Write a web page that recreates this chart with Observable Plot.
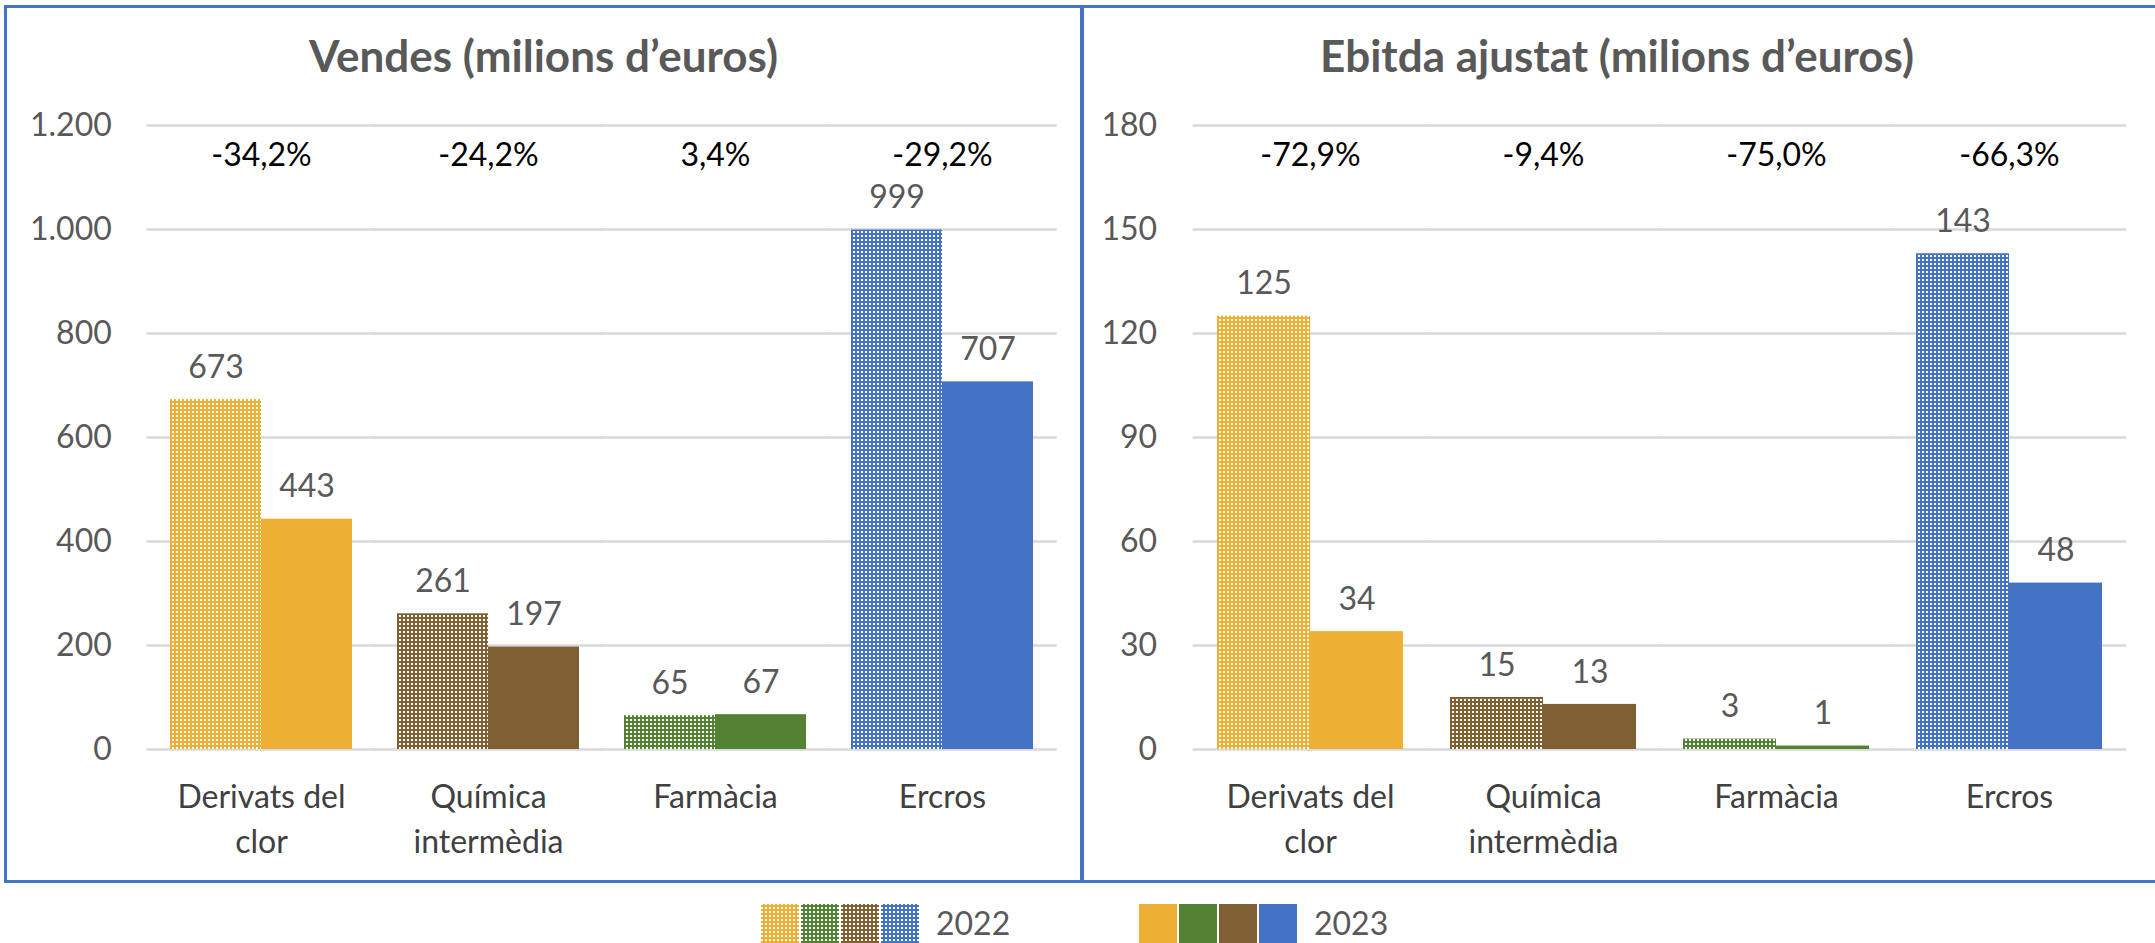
<!DOCTYPE html>
<html>
<head>
<meta charset="utf-8">
<script src="https://cdn.jsdelivr.net/npm/d3@7"></script>
<script src="https://cdn.jsdelivr.net/npm/@observablehq/plot@0.6"></script>
<style>
  html, body { margin: 0; padding: 0; background: #fff; }
  body { width: 2155px; height: 943px; position: relative; overflow: hidden; font-family: Lato, "Open Sans", sans-serif; }
  .panel { position: absolute; box-sizing: border-box; border: 3px solid #4472C4; }
  .title { position: absolute; text-align: center; font-weight: bold; font-size: 44px; line-height: 1; color: #595959; }
  .chart { position: absolute; }
</style>
</head>
<body>
<svg width="0" height="0" style="position:absolute">
  <defs id="patdefs"></defs>
</svg>
<div class="panel" style="left:4px; top:5px; width:1079px; height:878px;"></div>
<div class="panel" style="left:1081px; top:5px; width:1090px; height:878px;"></div>
<div class="title" style="left:4px; width:1079px; top:33px;">Vendes (milions d’euros)</div>
<div class="title" style="left:1081px; width:1072px; top:33px;">Ebitda ajustat (milions d’euros)</div>
<div id="left" class="chart" style="left:0px; top:90px;"></div>
<div id="right" class="chart" style="left:1085px; top:90px;"></div>
<div id="legend" class="chart" style="left:0px; top:890px;"></div>
<script>
// ---- data ----
const categories = ["Derivats del\nclor", "Química\nintermèdia", "Farmàcia", "Ercros"];
const years = ["2022", "2023"];
const categoryColors = ["#EDB034", "#7F6032", "#548235", "#4472C4"];
const sales2022 = [673, 261, 65, 999];
const sales2023 = [443, 197, 67, 707];
const salesChange = ["-34,2%", "-24,2%", "3,4%", "-29,2%"];
const ebitda2022 = [125, 15, 3, 143];
const ebitda2023 = [34, 13, 1, 48];
const ebitdaChange = ["-72,9%", "-9,4%", "-75,0%", "-66,3%"];
const salesTicks = [0, 200, 400, 600, 800, 1000, 1200];
const ebitdaTicks = [0, 30, 60, 90, 120, 150, 180];
const legendOrder = [0, 2, 1, 3];

// ---- patterns for 2022 bars ----
const defs = d3.select("#patdefs");
categoryColors.forEach((c, i) => {
  const p = defs.append("pattern").attr("id", "pat" + i).attr("width", 4).attr("height", 4)
    .attr("patternUnits", "userSpaceOnUse");
  p.append("rect").attr("width", 4).attr("height", 4).attr("fill", c);
  p.append("rect").attr("x", 1).attr("y", 1).attr("width", 2).attr("height", 2).attr("fill", "#fff");
});

const fmt = d3.formatLocale({decimal: ",", thousands: ".", grouping: [3], currency: ["", "€"]}).format(",d");

function rowsOf(v22, v23) {
  return categories.flatMap((c, i) => [
    {category: c, year: years[0], value: v22[i], fill: "url(#pat" + i + ")"},
    {category: c, year: years[1], value: v23[i], fill: categoryColors[i]}
  ]);
}

function chart(v22, v23, changes, ticks, width, marginLeft, marginRight, labelGap) {
  const rows = rowsOf(v22, v23);
  const pct = categories.map((c, i) => ({category: c, label: changes[i]}));
  const step = (width - marginLeft - marginRight) / (categories.length);
  const ext = -0.1 * step - 1;
  return Plot.plot({
    width, height: 790,
    marginTop: 35, marginBottom: 131, marginLeft, marginRight,
    style: {fontFamily: "Lato, 'Open Sans', sans-serif", fontSize: "32px", background: "transparent", overflow: "visible"},
    fx: {domain: categories, paddingInner: 0.2, paddingOuter: 0.1, label: null},
    x: {domain: years, axis: null, padding: 0},
    y: {domain: [ticks[0], ticks[ticks.length - 1]], label: null},
    color: {type: "identity"},
    marks: [
      Plot.ruleY(ticks, {stroke: "#D9D9D9", strokeWidth: 2.5, insetLeft: ext, insetRight: ext}),
      Plot.axisY({ticks, tickSize: 0, tickPadding: labelGap + 0.1 * step, tickFormat: fmt, fontSize: 32, color: "#595959", label: null}),
      Plot.axisFx({anchor: "bottom", tickSize: 0, tickPadding: 27, lineHeight: 1.4, fontSize: 32, color: "#404040", label: null}),
      Plot.barY(rows, {fx: "category", x: "year", y: "value", fill: "fill"}),
      Plot.text(rows, {fx: "category", x: "year", y: "value", text: d => fmt(d.value), dy: -32, fontSize: 32, fill: "#595959"}),
      Plot.text(pct, {fx: "category", text: "label", frameAnchor: "top", dy: 18, fontSize: 32, fill: "#000"})
    ]
  });
}

document.getElementById("left").append(chart(sales2022, sales2023, salesChange, salesTicks, 1085, 147, 30, 36));
document.getElementById("right").append(chart(ebitda2022, ebitda2023, ebitdaChange, ebitdaTicks, 1070, 107, 28, 37));

// ---- legend ----
const lg = d3.select("#legend").append("svg").attr("width", 1500).attr("height", 60)
  .style("font-family", "Lato, 'Open Sans', sans-serif");
const groups = [{x0: 761, label: years[0], pattern: true}, {x0: 1139, label: years[1], pattern: false}];
groups.forEach(g => {
  legendOrder.forEach((ci, k) => {
    lg.append("rect").attr("x", g.x0 + k * 40).attr("y", 14).attr("width", 38).attr("height", 40)
      .attr("fill", g.pattern ? "url(#pat" + ci + ")" : categoryColors[ci]);
  });
  lg.append("text").attr("x", g.x0 + 175).attr("y", 45).attr("font-size", 32).attr("fill", "#595959").text(g.label);
});
</script>
</body>
</html>
